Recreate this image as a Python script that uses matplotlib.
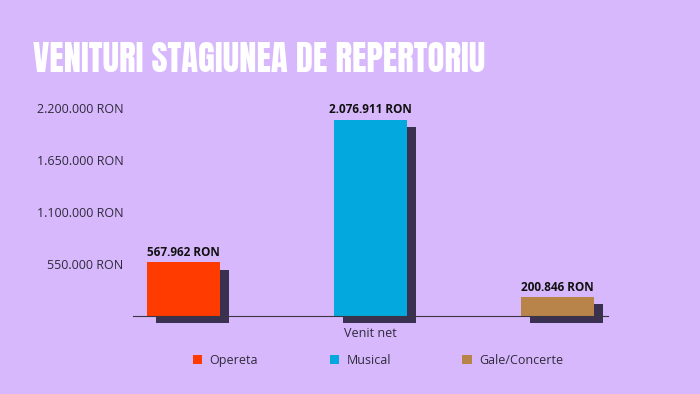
import matplotlib
matplotlib.use("Agg")
import matplotlib.pyplot as plt
import matplotlib.transforms as mtransforms
import numpy as np

# data
categories = ["Opereta", "Musical", "Gale/Concerte"]
values = [567962, 2076911, 200846]
colors = ["#FF3B00", "#02A8DE", "#B8844A"]
group_label = "Venit net"
yticks = [550000, 1100000, 1650000, 2200000]
title = "VENITURI STAGIUNEA DE REPERTORIU"

bg = "#D7B8FC"
txt = "#2E2A3A"


def ron(v):
    return f"{v:,.0f}".replace(",", ".") + " RON"


plt.rcParams['font.family'] = ['Open Sans', 'DejaVu Sans']

fig = plt.figure(figsize=(7, 3.94), dpi=100, facecolor=bg)
ax = fig.add_axes([0.19, 0.198, 0.679, 0.528])
ax.set_facecolor(bg)

x = np.arange(len(values)) - 1
width = 0.39

# drop shadow: same bars shifted a few pixels right/down
shift = ax.transData + mtransforms.ScaledTranslation(0.09, -0.075, fig.dpi_scale_trans)
ax.bar(x, values, width=width, color="#2B2540", alpha=0.92, transform=shift,
       clip_on=False, zorder=2)
ax.bar(x, values, width=width, color=colors, label=categories, zorder=3)

for xi, v in zip(x, values):
    ax.text(xi, v + 35000, ron(v), ha="center", va="bottom", fontsize=8.5,
            fontweight="bold", color="#111111", zorder=4)

ax.set_xlim(-1.27, 1.27)
ax.set_ylim(0, 2200000)
ax.set_yticks(yticks)
ax.set_yticklabels([ron(t) for t in yticks], fontsize=9, color=txt)
ax.set_xticks([0])
ax.set_xticklabels([group_label], fontsize=9, color=txt)
ax.tick_params(length=0, pad=7)
ax.tick_params(axis="x", pad=8)
for s in ["top", "right", "left"]:
    ax.spines[s].set_visible(False)
ax.spines["bottom"].set_color("#3A3545")
ax.spines["bottom"].set_linewidth(0.8)
ax.spines["bottom"].set_zorder(5)

t = fig.text(0.047, 0.85, title, fontsize=30, color="white",
             family=['Anton', 'Bebas Neue', 'Oswald', 'Barlow Condensed', 'DejaVu Sans'],
             ha="left", va="center")
# shrink title to the reference width (~449 px)
r = fig.canvas.get_renderer()
w = t.get_window_extent(r).width
if w > 0:
    t.set_fontsize(30 * 449 / w)

fig.legend(loc="center", bbox_to_anchor=(0.54, 0.086), ncol=3, frameon=False,
           fontsize=9, labelcolor=txt, handlelength=0.75, handleheight=0.75,
           handletextpad=0.6, columnspacing=5.7)

fig.savefig("out.png", dpi=100, facecolor=bg)
